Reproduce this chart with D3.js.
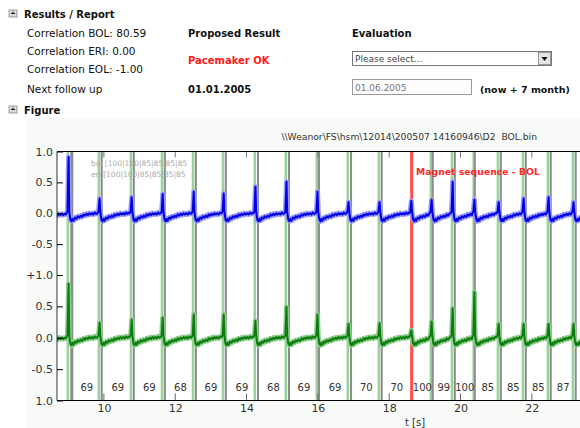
<!DOCTYPE html>
<html><head><meta charset="utf-8">
<script src="https://cdn.jsdelivr.net/npm/d3@7/dist/d3.min.js"></script>
<style>
html,body{margin:0;padding:0;background:#fff;}
svg{display:block;}
text{font-family:"DejaVu Sans",Verdana,sans-serif;}
</style></head>
<body>
<svg id="c" width="580" height="428"></svg>
<script>
// ---------------- data ----------------
const xTickValues = [10, 12, 14, 16, 18, 20, 22];
const xTickLabels = ["10", "12", "14", "16", "18", "20", "22"];
const yTickValues = [1.0, 0.5, 0.0, -0.5, -1.0];
const yTopLabels = ["1.0", "0.5", "0.0", "-0.5", "+1.0"];
const yBotLabels = ["", "0.5", "0.0", "-0.5", "1.0"];
// sensing markers (green) and detection markers (gray), seconds
const senseTimes = [8.99, 9.86, 10.76, 11.63, 12.50, 13.34, 14.23, 15.10, 15.97, 16.84, 17.71,
                    19.17, 19.76, 20.37, 21.05, 21.75, 22.45, 23.15];
const detectTimes = [9.10, 9.94, 10.84, 11.71, 12.58, 13.42, 14.32, 15.19, 16.03, 16.93, 17.79,
                     18.64, 19.22, 19.84, 20.40, 21.13, 21.83, 22.53, 23.23];
const magnetTime = 18.63;
const rateLabels = ["69","69","69","68","69","69","68","69","69","70","70","100","99","100","85","85","85","87"];
// beat (R-wave) times and amplitudes for each channel
const beatTimes = [8.99, 9.86, 10.76, 11.63, 12.50, 13.34, 14.23, 15.10, 15.97, 16.84, 17.71,
                   18.60, 19.17, 19.76, 20.37, 21.05, 21.75, 22.45, 23.15];
const bolPeaks = [0.93, 0.26, 0.28, 0.33, 0.37, 0.34, 0.45, 0.53, 0.37, 0.20, 0.20, 0.22, 0.24, 0.53, 0.24, 0.20, 0.26, 0.28, 0.20];
const eriPeaks = [0.87, 0.25, 0.30, 0.33, 0.38, 0.38, 0.28, 0.50, 0.38, 0.23, 0.24, 0.13, 0.27, 0.48, 0.74, 0.23, 0.23, 0.23, 0.23];
// one beat's shape: [offset s, value]; null = R peak
const beatShape = [[-0.04,0.02],[-0.01,0.05],[0.02,null],[0.04,0.04],[0.07,-0.08],[0.10,-0.11],
  [0.13,-0.07],[0.16,-0.10],[0.20,-0.05],[0.24,-0.07],[0.28,-0.03],[0.32,-0.05],[0.36,-0.02],
  [0.40,-0.04],[0.44,0.0],[0.48,-0.02],[0.52,0.01],[0.56,-0.01],[0.60,0.02],[0.64,0.0],
  [0.68,0.02],[0.72,0.0],[0.76,0.03],[0.80,0.01],[0.84,0.03]];
const leadIn = [[8.66,0.0],[8.70,-0.02],[8.74,0.01],[8.78,-0.01],[8.82,0.01],[8.86,-0.01],[8.90,0.01],[8.93,0.0]];
const tailOut = [[23.45,0.0]];

// ---------------- build ----------------
const svg = d3.select("#c");
const W = 580, H = 428;
const L = 57, R = 580, T = 151.5, B = 400.5, MID = 275;

svg.append("rect").attr("width", W).attr("height", H).attr("fill", "#fff");

// header section
function icon(x, y) {
  const g = svg.append("g");
  g.append("rect").attr("x", x).attr("y", y).attr("width", 8).attr("height", 7)
    .attr("fill", "#dcdcdc").attr("stroke", "#888").attr("stroke-width", 0.8);
  g.append("line").attr("x1", x + 2).attr("x2", x + 6).attr("y1", y + 3.5).attr("y2", y + 3.5)
    .attr("stroke", "#222").attr("stroke-width", 1.2);
  g.append("line").attr("x1", x + 4).attr("x2", x + 4).attr("y1", y + 1.5).attr("y2", y + 3.5)
    .attr("stroke", "#222").attr("stroke-width", 1);
}
icon(9, 10);
icon(9, 106);
const hdr = (x, y, s, opts = {}) => svg.append("text").attr("x", x).attr("y", y).text(s)
  .attr("font-size", opts.size || 10).attr("font-weight", opts.bold ? "bold" : "normal")
  .attr("fill", opts.fill || "#111");
hdr(24, 18, "Results / Report", {bold: true});
hdr(27, 37, "Correlation BOL: 80.59", {size: 10.5});
hdr(27, 55, "Correlation ERI: 0.00", {size: 10.5});
hdr(27, 73, "Correlation EOL: -1.00", {size: 10.5});
hdr(27, 93, "Next follow up", {size: 10.5});
hdr(188, 37, "Proposed Result", {bold: true});
hdr(188, 64, "Pacemaker OK", {bold: true, fill: "#ff1a1a"});
hdr(188, 93, "01.01.2005", {bold: true});
hdr(352, 37, "Evaluation", {bold: true});
hdr(480, 93, "(now + 7 month)", {bold: true, size: 9.5});
hdr(24, 114, "Figure", {bold: true});
// select box
svg.append("rect").attr("x", 352.5).attr("y", 51.5).attr("width", 199).attr("height", 14)
  .attr("fill", "#fff").attr("stroke", "#777");
svg.append("rect").attr("x", 538.5).attr("y", 52.5).attr("width", 12).attr("height", 12)
  .attr("fill", "#e4e4e4").attr("stroke", "#999");
svg.append("path").attr("d", "M541.5,57 L547.5,57 L544.5,61 Z").attr("fill", "#111");
hdr(355, 62, "Please select...", {size: 9, fill: "#444"});
// date input
svg.append("rect").attr("x", 352.5).attr("y", 79.5).attr("width", 119).attr("height", 15)
  .attr("fill", "#fdfdfd").attr("stroke", "#999");
hdr(355, 91, "01.06.2005", {size: 9, fill: "#777"});

// figure panel
svg.append("rect").attr("x", 27).attr("y", 118).attr("width", W - 27).attr("height", H - 118)
  .attr("fill", "#f8faf7");
svg.append("rect").attr("x", L).attr("y", T).attr("width", R - L).attr("height", B - T).attr("fill", "#fff");

const x = d3.scaleLinear().domain([8.685, 23.35]).range([L, R]);
const yTop = d3.scaleLinear().domain([-1, 1]).range([MID, T]);
const yBot = d3.scaleLinear().domain([-1, 1]).range([B, MID]);

svg.append("defs").append("clipPath").attr("id", "clip")
  .append("rect").attr("x", L).attr("y", T).attr("width", R - L).attr("height", B - T);
const plot = svg.append("g").attr("clip-path", "url(#clip)");

// markers
plot.selectAll(".sense").data(senseTimes).join("line")
  .attr("x1", d => x(d)).attr("x2", d => x(d)).attr("y1", T).attr("y2", B)
  .attr("stroke", "#9ad39a").attr("stroke-width", 2.6);
plot.selectAll(".det").data(detectTimes.filter(d => d !== 18.64)).join("line")
  .attr("x1", d => x(d)).attr("x2", d => x(d)).attr("y1", T).attr("y2", B)
  .attr("stroke", "#8a8a8a").attr("stroke-width", (d, i) => i === 0 ? 3 : 2);
plot.append("line").attr("x1", x(magnetTime)).attr("x2", x(magnetTime)).attr("y1", T).attr("y2", B)
  .attr("stroke", "#ff4d4d").attr("stroke-width", 3);

// traces
function buildTrace(peaks) {
  const pts = leadIn.slice();
  beatTimes.forEach((bt, i) => {
    const next = i < beatTimes.length - 1 ? beatTimes[i + 1] : 99;
    beatShape.forEach(([o, v]) => {
      const t = bt + o;
      if (t < next - 0.045) pts.push([t, v === null ? peaks[i] : v]);
    });
  });
  return pts.concat(tailOut);
}
const bolPts = buildTrace(bolPeaks);
const eriPts = buildTrace(eriPeaks);
const lineTop = d3.line().x(d => x(d[0])).y(d => yTop(d[1] - 0.02));
const lineBot = d3.line().x(d => x(d[0])).y(d => yBot(d[1] - 0.01));
plot.append("path").attr("d", lineTop(bolPts)).attr("fill", "none")
  .attr("stroke", "#9a9af8").attr("stroke-width", 5).attr("stroke-linejoin", "round");
plot.append("path").attr("d", lineTop(bolPts)).attr("fill", "none")
  .attr("stroke", "#0000e6").attr("stroke-width", 2).attr("stroke-linejoin", "round");
plot.append("path").attr("d", lineBot(eriPts)).attr("fill", "none")
  .attr("stroke", "#8ecb8e").attr("stroke-width", 5).attr("stroke-linejoin", "round");
plot.append("path").attr("d", lineBot(eriPts)).attr("fill", "none")
  .attr("stroke", "#0a7d0a").attr("stroke-width", 2).attr("stroke-linejoin", "round");

// rate labels at mid of consecutive detections
plot.selectAll(".rate").data(rateLabels).join("text")
  .attr("x", (d, i) => x((detectTimes[i] + detectTimes[i + 1]) / 2))
  .attr("y", 391).attr("text-anchor", "middle").attr("font-size", 10)
  .attr("fill", "#333").text(d => d);

// inner x ticks (top and bottom)
plot.selectAll(".tb").data(xTickValues).join("line")
  .attr("x1", d => x(d)).attr("x2", d => x(d)).attr("y1", B - 7).attr("y2", B)
  .attr("stroke", "#666").attr("stroke-width", 1);
plot.selectAll(".tt").data(xTickValues).join("line")
  .attr("x1", d => x(d)).attr("x2", d => x(d)).attr("y1", T).attr("y2", T + 6)
  .attr("stroke", "#777").attr("stroke-width", 1);

// axes frame
svg.append("line").attr("x1", L).attr("x2", R).attr("y1", T).attr("y2", T).attr("stroke", "#000");
svg.append("line").attr("x1", L).attr("x2", R).attr("y1", B).attr("y2", B).attr("stroke", "#000");
svg.append("line").attr("x1", L).attr("x2", L).attr("y1", T).attr("y2", B).attr("stroke", "#333");

// x axis labels
const xAxis = d3.axisBottom(x).tickValues(xTickValues).tickFormat((d, i) => xTickLabels[i]).tickSize(0).tickPadding(4);
const gx = svg.append("g").attr("transform", `translate(0,${B})`).call(xAxis);
gx.select(".domain").remove();
gx.selectAll("text").attr("font-size", 11).attr("fill", "#333").attr("font-family", "DejaVu Sans, sans-serif");
svg.append("text").attr("x", 415).attr("y", 426).attr("text-anchor", "middle")
  .attr("font-size", 10).attr("fill", "#333").text("t [s]");

// y axes (inward ticks)
function yAxisFor(scale, labels) {
  const ax = d3.axisLeft(scale).tickValues(yTickValues).tickFormat((d, i) => labels[i])
    .tickSizeInner(-6).tickSizeOuter(0).tickPadding(4);
  const g = svg.append("g").attr("transform", `translate(${L},0)`).call(ax);
  g.select(".domain").remove();
  g.selectAll("line").attr("stroke", "#000");
  g.selectAll("text").attr("font-size", 11).attr("fill", "#333").attr("font-family", "DejaVu Sans, sans-serif");
}
yAxisFor(yTop, yTopLabels);
yAxisFor(yBot, yBotLabels);

// annotations
svg.append("text").attr("x", 537).attr("y", 140).attr("text-anchor", "end")
  .attr("font-size", 9.2).attr("fill", "#333").style("white-space", "pre")
  .text("\\\\Weanor\\FS\\hsm\\12014\\200507 14160946\\D2  BOL.bin");
svg.append("text").attr("x", 91).attr("y", 166).attr("font-size", 7.5).attr("fill", "#aaa")
  .text("bol [100|100|85|85|85|85");
svg.append("text").attr("x", 91).attr("y", 177).attr("font-size", 7.5).attr("fill", "#aaa")
  .text("eri [100|100|85|85|85|85");
svg.append("text").attr("x", 416).attr("y", 175).attr("font-size", 9.3).attr("font-weight", "bold")
  .attr("fill", "#ff2a2a").text("Magnet sequence - BOL");
</script>
</body></html>
